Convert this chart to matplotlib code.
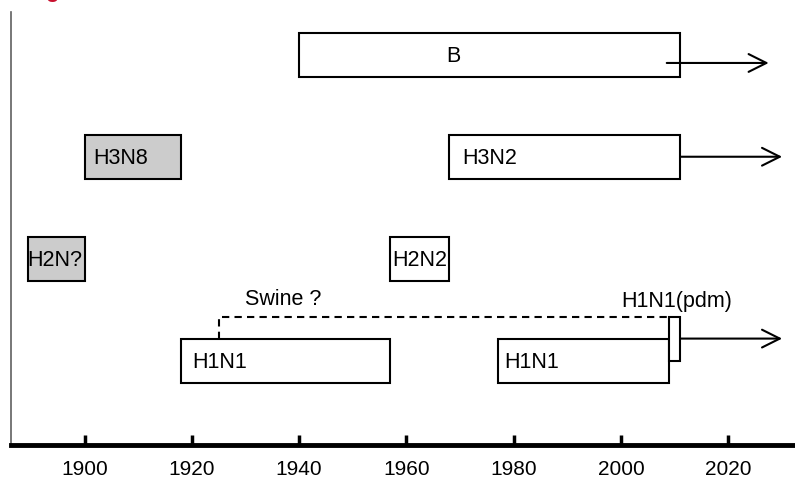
import matplotlib
matplotlib.use("Agg")
import matplotlib.pyplot as plt
from matplotlib.patches import Rectangle

plt.rcParams['font.family'] = ['Liberation Sans', 'DejaVu Sans']

# Subtype circulation periods
names = ['B', 'H3N8', 'H3N2', 'H2N?', 'H2N2', 'H1N1', 'H1N1']
starts = [1940, 1900, 1968, 1889.5, 1957, 1918, 1977]
ends = [2011, 1918, 2011, 1900, 1968, 1957, 2009]
rows = [4, 3, 3, 2, 2, 1, 1]
fills = ['white', '#cccccc', 'white', '#cccccc', 'white', 'white', 'white']
label_x = [1967.5, 1901.6, 1970.3, 1889.4, 1957.4, 1920.0, 1978.3]

# continuing lineages (arrows)
arrow_start = [2008.5, 2011, 2011]
arrow_end = [2027.5, 2030, 2030]
arrow_row = [3.92, 3.0, 1.216]

# pandemic 2009 and swine link
pdm_start, pdm_end = 2009, 2011
swine_year = 1925

xticks = [1900, 1920, 1940, 1960, 1980, 2000, 2020]

fig = plt.figure(figsize=(7.95, 4.79), dpi=100)
ax = fig.add_axes([11/795, (479-445)/479, 1 - 11/795, (445-12)/479])
ax.set_xlim(1886.3, 2032.4)
ax.set_ylim(0.172, 4.42)

h = 0.216
for n, s, e, r, f, lx in zip(names, starts, ends, rows, fills, label_x):
    ax.add_patch(Rectangle((s, r - h), e - s, 2*h, facecolor=f,
                           edgecolor='black', lw=1.5, zorder=2))
    ax.text(lx, r - 0.02, n, ha='left', va='center', fontsize=15.5, zorder=3)

for a0, a1, ar in zip(arrow_start, arrow_end, arrow_row):
    ax.annotate('', xy=(a1, ar), xytext=(a0, ar),
                arrowprops=dict(arrowstyle='->', lw=1.5, color='black',
                                mutation_scale=32, shrinkA=0, shrinkB=0),
                zorder=4)

# pdm box
ax.add_patch(Rectangle((pdm_start, 1.0), pdm_end - pdm_start, 0.426,
                       facecolor='white', edgecolor='black', lw=1.5, zorder=5))
# swine dashed link
ax.plot([swine_year, swine_year, pdm_start], [1 + h, 1.426, 1.426],
        color='black', lw=1.5, ls=(0, (3.5, 2.5)), zorder=1)
ax.text(1929.9, 1.60, 'Swine ?', ha='left', va='center', fontsize=15.5)
ax.text(2000.1, 1.58, 'H1N1(pdm)', ha='left', va='center', fontsize=15.5)

for sp in ['top', 'right']:
    ax.spines[sp].set_visible(False)
ax.spines['left'].set_color('#606060')
ax.spines['left'].set_linewidth(1.2)
ax.spines['bottom'].set_linewidth(3.5)
ax.set_yticks([])
ax.set_xticks(xticks)
ax.set_xticklabels([str(t) for t in xticks], fontsize=15)
ax.tick_params(axis='x', direction='in', length=7, width=2.5, pad=11)

fig.text(45/795, 1.007, 'g', color='#c8102e', fontsize=16, fontweight='bold',
         ha='left', va='baseline')

fig.savefig('out.png', dpi=100)
